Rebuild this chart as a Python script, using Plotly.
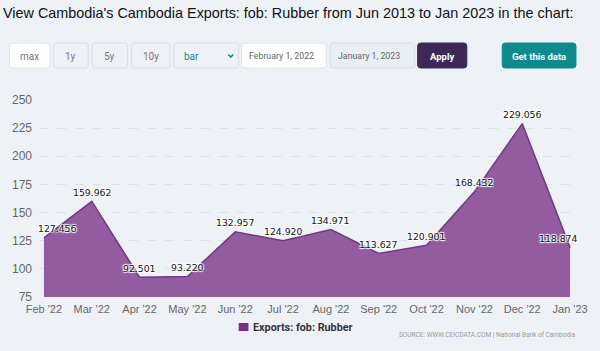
import plotly.graph_objects as go

months = ["Feb '22", "Mar '22", "Apr '22", "May '22", "Jun '22", "Jul '22",
          "Aug '22", "Sep '22", "Oct '22", "Nov '22", "Dec '22", "Jan '23"]
values = [127.456, 159.962, 92.501, 93.220, 132.957, 124.920,
          134.971, 113.627, 120.901, 168.432, 229.056, 118.874]
value_labels = ["127.456", "159.962", "92.501", "93.220", "132.957", "124.920",
                "134.971", "113.627", "120.901", "168.432", "229.056", "118.874"]
y_ticks = [75, 100, 125, 150, 175, 200, 225, 250]
series_name = "Exports: fob: Rubber"
title_text = "View Cambodia's Cambodia Exports: fob: Rubber from Jun 2013 to Jan 2023 in the chart:"
source_text = "SOURCE: WWW.CEICDATA.COM | National Bank of Cambodia"

W, H = 600, 351
ML, MR, MT, MB = 33, 22, 100, 54
PW, PH = W - ML - MR, H - MT - MB
BG = "#eef2f7"
FONT = "Liberation Sans, Arial, sans-serif"
UI = "Roboto, Liberation Sans, sans-serif"
LABEL_FONT = "DejaVu Sans, Verdana, sans-serif"


def px(x):
    return (x - ML) / PW


def py(y):
    return (H - MB - y) / PH


def rrect(x0, y0, x1, y1, r=3):
    X0, X1 = px(x0), px(x1)
    Y0, Y1 = py(y0), py(y1)
    rx, ry = r / PW, r / PH
    return (f"M{X0+rx},{Y0} L{X1-rx},{Y0} Q{X1},{Y0} {X1},{Y0-ry} "
            f"L{X1},{Y1+ry} Q{X1},{Y1} {X1-rx},{Y1} L{X0+rx},{Y1} "
            f"Q{X0},{Y1} {X0},{Y1+ry} L{X0},{Y0-ry} Q{X0},{Y0} {X0+rx},{Y0} Z")


fig = go.Figure()
fig.add_trace(go.Scatter(
    x=months, y=values, mode="lines", fill="tozeroy",
    line=dict(color="#6e3a80", width=1.5),
    fillcolor="#945ca0", showlegend=False, hoverinfo="x+y",
))

shapes = []
annotations = []

halo = "1px 1px 1px #fff, -1px -1px 1px #fff, 1px -1px 1px #fff, -1px 1px 1px #fff"
for i, (m, v, t) in enumerate(zip(months, values, value_labels)):
    xs = 0
    if i == 0:
        xs = 14
    elif i == len(months) - 1:
        xs = -12
    annotations.append(dict(
        x=m, y=v, xref="x", yref="y", text=t, showarrow=False,
        yshift=9, xshift=xs,
        font=dict(family=LABEL_FONT, size=9.3, color="#151515", shadow=halo),
    ))

buttons = [
    (3, 44, "max", "#ffffff", "#dde3ea", "#777777", "normal", 10),
    (48, 83, "1y", BG, "#d9dfe7", "#777777", "normal", 10),
    (87, 123, "5y", BG, "#d9dfe7", "#777777", "normal", 10),
    (127, 166, "10y", BG, "#d9dfe7", "#777777", "normal", 10),
    (170, 236, "", BG, "#d9dfe7", "#777777", "normal", 10),
    (239, 325, "", "#ffffff", "#dde3ea", "#666666", "normal", 10),
    (329, 415, "", "#e9eef4", "#d9dfe7", "#666666", "normal", 10),
    (418, 468, "Apply", "#3d2856", "#3d2856", "#ffffff", "bold", 9.5),
    (504, 579, "Get this data", "#0f8a8c", "#0f8a8c", "#ffffff", "bold", 9.5),
]
for x0, x1, label, fillc, linec, tc, wt, fs in buttons:
    shapes.append(dict(type="path", xref="paper", yref="paper",
                       path=rrect(x0, 43, x1, 68, 3), fillcolor=fillc,
                       line=dict(color=linec, width=1), layer="above"))
    if label:
        annotations.append(dict(x=px((x0 + x1) / 2), y=py(56), xref="paper", yref="paper",
                                text=label, showarrow=False, xanchor="center", yanchor="middle",
                                font=dict(family=UI, size=fs, color=tc, weight=wt)))

annotations.append(dict(x=px(178), y=py(56), xref="paper", yref="paper", text="bar",
                        showarrow=False, xanchor="left", yanchor="middle",
                        font=dict(family=UI, size=10, color="#1a8787")))
shapes.append(dict(type="path", xref="paper", yref="paper",
                   path=f"M{px(225.5)},{py(54.5)} L{px(228)},{py(57)} L{px(230.5)},{py(54.5)}",
                   line=dict(color="#1a8787", width=1.6)))
annotations.append(dict(x=px(245), y=py(56), xref="paper", yref="paper", text="February 1, 2022",
                        showarrow=False, xanchor="left", yanchor="middle",
                        font=dict(family=UI, size=8.8, color="#666666")))
annotations.append(dict(x=px(335), y=py(56), xref="paper", yref="paper", text="January 1, 2023",
                        showarrow=False, xanchor="left", yanchor="middle",
                        font=dict(family=UI, size=8.8, color="#666666")))

shapes.append(dict(type="rect", xref="paper", yref="paper",
                   x0=px(236), x1=px(246), y0=py(323), y1=py(331),
                   fillcolor="#7b2d8b", line=dict(width=0)))
annotations.append(dict(x=px(248.5), y=py(327), xref="paper", yref="paper", text=series_name,
                        showarrow=False, xanchor="left", yanchor="middle",
                        font=dict(family=UI, size=10.8, color="#333333", weight="bold")))

annotations.append(dict(x=px(581), y=py(335), xref="paper", yref="paper", text=source_text,
                        showarrow=False, xanchor="right", yanchor="middle",
                        font=dict(family=UI, size=6.5, color="#999999")))

fig.update_layout(
    width=W, height=H,
    margin=dict(l=ML, r=MR, t=MT, b=MB, pad=0),
    paper_bgcolor=BG, plot_bgcolor=BG,
    title=dict(text=title_text, x=3 / W, xanchor="left", xref="container",
               y=1 - 13 / H, yanchor="middle", yref="container",
               font=dict(family=FONT, size=14.4, color="#111111", weight=500)),
    xaxis=dict(type="category", range=[-0.103, 11.103], showgrid=False,
               showline=False, zeroline=False, ticks="", ticklabelstandoff=4,
               tickfont=dict(family=FONT, size=11, color="#666666")),
    yaxis=dict(range=[75, 250], tickvals=y_ticks, showgrid=True, gridcolor="#dde2e8",
               griddash="dash", gridwidth=1, zeroline=False, showline=False,
               ticks="", ticklabelstandoff=6,
               tickfont=dict(family=FONT, size=12, color="#666666")),
    shapes=shapes, annotations=annotations, showlegend=False,
)

fig.write_html("out.html")
